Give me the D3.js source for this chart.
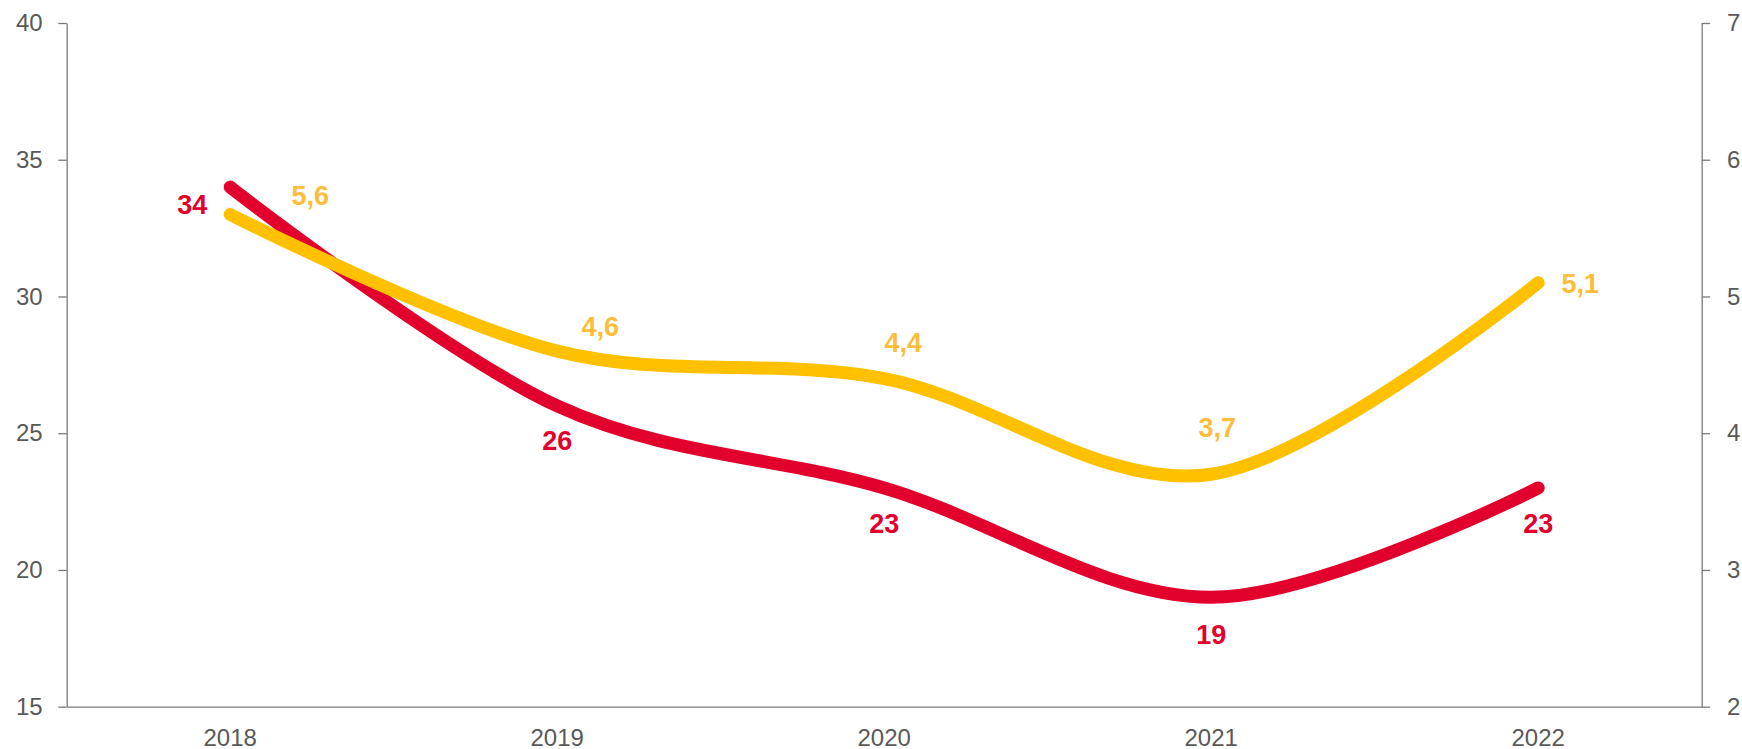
<!DOCTYPE html>
<html>
<head>
<meta charset="utf-8">
<script src="https://cdn.jsdelivr.net/npm/d3@7"></script>
<style>
  body { margin: 0; background: #fff; }
  text { font-family: "Liberation Sans", Arial, sans-serif; }
</style>
</head>
<body>
<div id="chart"></div>
<script>
var years = ["2018", "2019", "2020", "2021", "2022"];
var redValues = [34, 26, 23, 19, 23];          // left axis
var yellowValues = [5.6, 4.6, 4.4, 3.7, 5.1];  // right axis
var leftTicks = [15, 20, 25, 30, 35, 40];
var rightTicks = [2, 3, 4, 5, 6, 7];

var redColor = "#e2002c";
var yellowColor = "#ffc000";
var yellowLabel = "#fbbd3a";
var axisColor = "#7a7a7a";
var textColor = "#595959";

var W = 1742, H = 749;
var plotLeft = 66.7, plotRight = 1701.7, plotTop = 23, plotBottom = 706.7;

// label nudges (dx, dy from the point), tuned by eye
var redNudge = [[-38, 17], [0, 35], [0, 35.5], [0, 37], [0, 35.5]];
var yellowNudge = [[80, -19], [43, -25], [19, -35.5], [6, -47], [42, 1]];

var svg = d3.select("#chart").append("svg").attr("width", W).attr("height", H);

var x = d3.scaleBand().domain(years).range([plotLeft, plotRight]);
var yL = d3.scaleLinear().domain([15, 40]).range([plotBottom, plotTop]);
var yR = d3.scaleLinear().domain([2, 7]).range([plotBottom, plotTop]);

function cx(d) { return x(d) + x.bandwidth() / 2; }

function styleAxis(g) {
  g.selectAll("path, line").attr("stroke", axisColor).attr("stroke-width", 1.3);
  g.selectAll("text").attr("fill", textColor).style("font-size", "24px")
    .style("font-family", "'Liberation Sans', Arial, sans-serif");
}

svg.append("g").attr("transform", "translate(" + plotLeft + ",0)")
  .call(d3.axisLeft(yL).tickValues(leftTicks).tickSize(8.4).tickSizeOuter(0).tickPadding(15.6))
  .call(styleAxis);

svg.append("g").attr("transform", "translate(" + plotRight + ",0)")
  .call(d3.axisRight(yR).tickValues(rightTicks).tickSize(8.4).tickSizeOuter(0).tickPadding(17))
  .call(styleAxis);

svg.append("g").attr("transform", "translate(0," + plotBottom + ")")
  .call(d3.axisBottom(x).tickSize(0).tickSizeOuter(0).tickPadding(22))
  .call(styleAxis);

var curve = d3.curveCardinal.tension(0);

var redLine = d3.line().curve(curve)
  .x(function(d, i) { return cx(years[i]); })
  .y(function(d) { return yL(d); });
var yellowLine = d3.line().curve(curve)
  .x(function(d, i) { return cx(years[i]); })
  .y(function(d) { return yR(d); });

svg.append("path").datum(redValues).attr("d", redLine)
  .attr("fill", "none").attr("stroke", redColor).attr("stroke-width", 13)
  .attr("stroke-linecap", "round").attr("stroke-linejoin", "round");

svg.append("path").datum(yellowValues).attr("d", yellowLine)
  .attr("fill", "none").attr("stroke", yellowColor).attr("stroke-width", 13)
  .attr("stroke-linecap", "round").attr("stroke-linejoin", "round");

svg.selectAll(".lbl-red").data(redValues).enter().append("text")
  .attr("class", "lbl-red")
  .attr("x", function(d, i) { return cx(years[i]) + redNudge[i][0]; })
  .attr("y", function(d, i) { return yL(d) + redNudge[i][1]; })
  .attr("dy", "0.35em")
  .attr("text-anchor", "middle")
  .attr("fill", redColor)
  .style("font-size", "27px").style("font-weight", "bold")
  .text(function(d) { return String(d).replace(".", ","); });

svg.selectAll(".lbl-yellow").data(yellowValues).enter().append("text")
  .attr("class", "lbl-yellow")
  .attr("x", function(d, i) { return cx(years[i]) + yellowNudge[i][0]; })
  .attr("y", function(d, i) { return yR(d) + yellowNudge[i][1]; })
  .attr("dy", "0.35em")
  .attr("text-anchor", "middle")
  .attr("fill", yellowLabel)
  .style("font-size", "27px").style("font-weight", "bold")
  .text(function(d) { return d3.format(".1f")(d).replace(".", ","); });
</script>
</body>
</html>
